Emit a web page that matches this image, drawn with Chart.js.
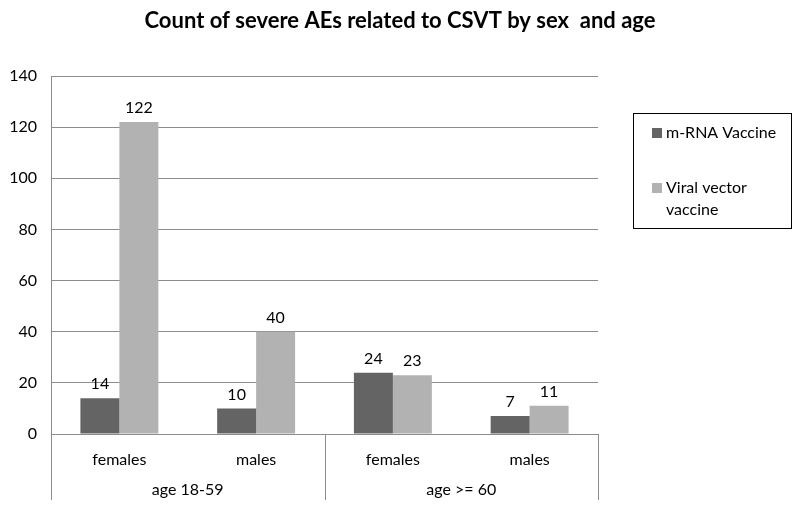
<!DOCTYPE html>
<html>
<head>
<meta charset="utf-8">
<script src="https://cdn.jsdelivr.net/npm/chart.js@4.4.1/dist/chart.umd.min.js"></script>
<style>
  html, body { margin: 0; padding: 0; background: #fff; }
  #wrap { width: 800px; height: 519px; }
</style>
</head>
<body>
<div id="wrap"><canvas id="chart"></canvas></div>
<script>
// Chart data
const categories = ['females', 'males', 'females', 'males'];
const groups = ['age 18-59', 'age >= 60'];
const mrnaValues = [14, 10, 24, 7];
const viralValues = [122, 40, 23, 11];
const yTicks = [0, 20, 40, 60, 80, 100, 120, 140];

const FONT = 'Lato, "Open Sans", sans-serif';
const GRID = '#8c8c8c';

/**
 * Title, value labels, group axis and boxed legend
 */
const extrasPlugin = {
    id: 'extras',
    afterDraw(chart) {
        const ctx = chart.ctx;
        const area = chart.chartArea;
        const x = chart.scales.x;

        ctx.save();

        // Title
        ctx.fillStyle = '#000';
        ctx.font = 'bold 22px ' + FONT;
        ctx.textAlign = 'center';
        ctx.textBaseline = 'middle';
        ctx.fillText('Count of severe AEs related to CSVT by sex  and age', 400, 21);

        // Value labels on top of bars
        ctx.font = '16px ' + FONT;
        ctx.textBaseline = 'bottom';
        chart.data.datasets.forEach((ds, di) => {
            chart.getDatasetMeta(di).data.forEach((bar, i) => {
                ctx.fillText(String(ds.data[i]), bar.x, bar.y - 6);
            });
        });

        // Group separators below the axis
        const step = (area.right - area.left) / categories.length;
        ctx.strokeStyle = GRID;
        ctx.lineWidth = 1;
        [0, 2, 4].forEach(k => {
            const px = Math.round(area.left + k * step) + 0.5;
            ctx.beginPath();
            ctx.moveTo(px, area.bottom);
            ctx.lineTo(px, 500);
            ctx.stroke();
        });

        // Group labels
        ctx.textBaseline = 'middle';
        groups.forEach((g, k) => {
            const cx = (x.getPixelForValue(k * 2) + x.getPixelForValue(k * 2 + 1)) / 2;
            ctx.fillText(g, cx, 490);
        });

        // Legend box
        ctx.strokeStyle = '#000';
        ctx.strokeRect(633.5, 113.5, 158, 115);
        ctx.textAlign = 'left';
        const ds = chart.data.datasets;
        ctx.fillStyle = ds[0].backgroundColor;
        ctx.fillRect(652, 128, 10, 10);
        ctx.fillStyle = ds[1].backgroundColor;
        ctx.fillRect(652, 183, 10, 10);
        ctx.fillStyle = '#000';
        ctx.fillText('m-RNA Vaccine', 666, 133);
        ctx.fillText('Viral vector', 666, 188);
        ctx.fillText('vaccine', 666, 210);

        ctx.restore();
    }
};

const ctx = document.getElementById('chart').getContext('2d');

new Chart(ctx, {
    type: 'bar',
    data: {
        labels: categories,
        datasets: [{
            label: 'm-RNA Vaccine',
            data: mrnaValues,
            backgroundColor: '#646464',
            categoryPercentage: 0.57,
            barPercentage: 1.0
        }, {
            label: 'Viral vector vaccine',
            data: viralValues,
            backgroundColor: '#b2b2b2',
            categoryPercentage: 0.57,
            barPercentage: 1.0
        }]
    },
    options: {
        responsive: true,
        maintainAspectRatio: false,
        animation: false,
        layout: {
            padding: { top: 76, right: 202, left: 0, bottom: 0 }
        },
        scales: {
            y: {
                min: 0,
                max: 140,
                afterFit: (axis) => { axis.width = 51; },
                afterBuildTicks: (axis) => {
                    axis.ticks = yTicks.map(v => ({ value: v }));
                },
                ticks: {
                    color: '#000',
                    font: { family: FONT, size: 16 },
                    padding: 14
                },
                grid: {
                    color: GRID,
                    drawTicks: false
                },
                border: { display: true, color: GRID }
            },
            x: {
                afterFit: (axis) => { axis.height = 85; },
                ticks: {
                    color: '#000',
                    font: { family: FONT, size: 16 },
                    padding: 8
                },
                grid: { display: false },
                border: { display: true, color: GRID }
            }
        },
        plugins: {
            legend: { display: false },
            tooltip: { enabled: false }
        }
    },
    plugins: [extrasPlugin]
});
</script>
</body>
</html>
